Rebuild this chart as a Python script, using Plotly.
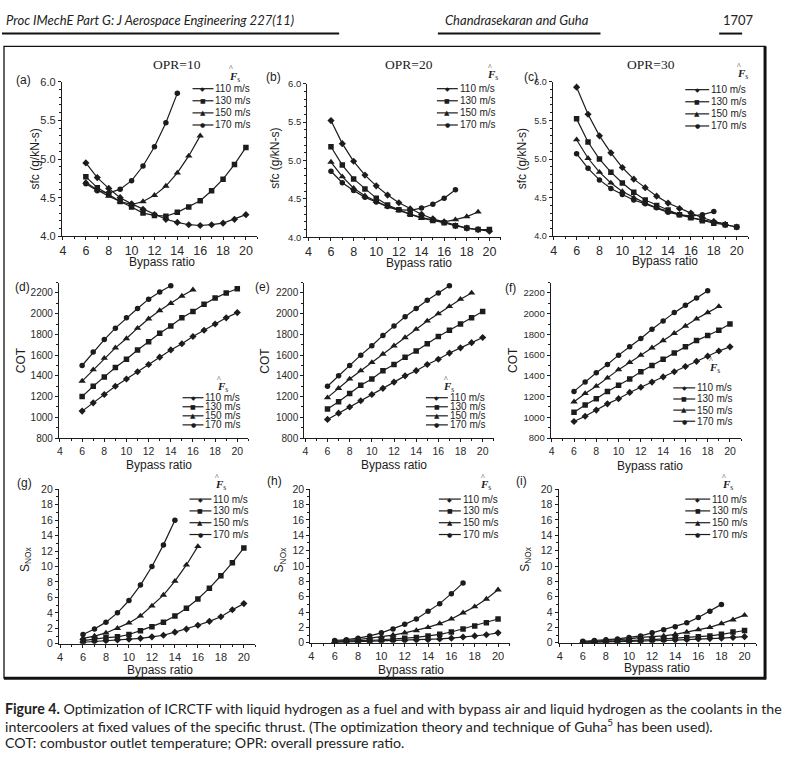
import plotly.graph_objects as go

W, H = 787, 760

# ---------------- data ----------------
bpr = [6, 7, 8, 9, 10, 11, 12, 13, 14, 15, 16, 17, 18, 19, 20]
speed_labels = ["110 m/s", "130 m/s", "150 m/s", "170 m/s"]
opr_titles = ["OPR=10", "OPR=20", "OPR=30"]
panel_letters = ["(a)", "(b)", "(c)", "(d)", "(e)", "(f)", "(g)", "(h)", "(i)"]
x_ticks = [4, 6, 8, 10, 12, 14, 16, 18, 20]
sfc_ticks = [4.0, 4.5, 5.0, 5.5, 6.0]
cot_ticks = [800, 1000, 1200, 1400, 1600, 1800, 2000, 2200]
nox_ticks = [0, 2, 4, 6, 8, 10, 12, 14, 16, 18, 20]

# sfc (g/kN-s)
sfc10_110 = [4.95, 4.76, 4.62, 4.50, 4.42, 4.35, 4.28, 4.22, 4.18, 4.15, 4.14, 4.15, 4.17, 4.22, 4.28]
sfc10_130 = [4.77, 4.63, 4.54, 4.45, 4.38, 4.30, 4.27, 4.26, 4.31, 4.38, 4.46, 4.59, 4.74, 4.93, 5.15]
sfc10_150 = [4.70, 4.60, 4.52, 4.45, 4.41, 4.45, 4.53, 4.65, 4.82, 5.04, 5.30]
sfc10_170 = [4.68, 4.59, 4.56, 4.61, 4.72, 4.91, 5.16, 5.47, 5.85]

sfc20_110 = [5.52, 5.22, 4.99, 4.81, 4.67, 4.55, 4.45, 4.37, 4.30, 4.24, 4.20, 4.15, 4.12, 4.10, 4.08]
sfc20_130 = [5.18, 4.94, 4.76, 4.63, 4.51, 4.42, 4.36, 4.30, 4.26, 4.22, 4.19, 4.15, 4.12, 4.10, 4.10]
sfc20_150 = [4.98, 4.79, 4.64, 4.54, 4.47, 4.40, 4.35, 4.30, 4.25, 4.22, 4.20, 4.23, 4.27, 4.33]
sfc20_170 = [4.86, 4.71, 4.61, 4.52, 4.46, 4.40, 4.36, 4.35, 4.38, 4.43, 4.51, 4.62]

sfc30_110 = [5.93, 5.58, 5.30, 5.08, 4.89, 4.74, 4.63, 4.52, 4.43, 4.36, 4.30, 4.24, 4.19, 4.15, 4.12]
sfc30_130 = [5.52, 5.22, 5.00, 4.83, 4.69, 4.57, 4.47, 4.40, 4.34, 4.28, 4.24, 4.20, 4.17, 4.15, 4.12]
sfc30_150 = [5.25, 5.01, 4.83, 4.69, 4.58, 4.50, 4.43, 4.37, 4.32, 4.28, 4.24, 4.21, 4.19, 4.16]
sfc30_170 = [5.07, 4.88, 4.73, 4.62, 4.54, 4.47, 4.42, 4.37, 4.31, 4.28, 4.26, 4.28, 4.32]

# COT
cot10_110 = [1060, 1140, 1220, 1300, 1370, 1440, 1510, 1580, 1650, 1710, 1780, 1840, 1900, 1960, 2010]
cot10_130 = [1200, 1300, 1390, 1480, 1560, 1650, 1730, 1810, 1880, 1960, 2020, 2090, 2150, 2200, 2240]
cot10_150 = [1350, 1460, 1570, 1670, 1760, 1860, 1950, 2030, 2100, 2170, 2230]
cot10_170 = [1500, 1630, 1750, 1860, 1960, 2050, 2140, 2210, 2270]

cot20_110 = [980, 1040, 1100, 1160, 1220, 1280, 1340, 1400, 1450, 1510, 1560, 1620, 1670, 1720, 1770]
cot20_130 = [1080, 1150, 1230, 1310, 1370, 1450, 1510, 1580, 1640, 1710, 1780, 1840, 1900, 1960, 2020]
cot20_150 = [1190, 1280, 1370, 1450, 1530, 1610, 1690, 1770, 1850, 1930, 2000, 2070, 2140, 2200]
cot20_170 = [1300, 1400, 1500, 1600, 1690, 1790, 1880, 1970, 2050, 2130, 2200, 2270]

cot30_110 = [960, 1010, 1070, 1130, 1180, 1240, 1290, 1340, 1390, 1440, 1490, 1540, 1590, 1640, 1680]
cot30_130 = [1050, 1120, 1180, 1250, 1310, 1370, 1440, 1500, 1560, 1620, 1680, 1740, 1790, 1840, 1900]
cot30_150 = [1150, 1230, 1300, 1380, 1460, 1530, 1600, 1670, 1740, 1810, 1880, 1950, 2010, 2070]
cot30_170 = [1250, 1340, 1430, 1510, 1600, 1680, 1760, 1850, 1930, 2010, 2080, 2150, 2220]

# S_NOx
nox10_110 = [0.2, 0.3, 0.4, 0.5, 0.6, 0.7, 0.9, 1.1, 1.5, 1.9, 2.4, 2.9, 3.5, 4.4, 5.2]
nox10_130 = [0.4, 0.6, 0.8, 0.9, 1.2, 1.7, 2.2, 2.8, 3.6, 4.6, 5.8, 7.2, 8.8, 10.5, 12.4]
nox10_150 = [0.7, 1.0, 1.4, 2.0, 2.7, 3.6, 4.9, 6.3, 8.1, 10.2, 12.6]
nox10_170 = [1.2, 1.9, 2.8, 4.0, 5.6, 7.6, 10.0, 12.8, 16.0]

nox20_110 = [0.05, 0.1, 0.1, 0.15, 0.2, 0.25, 0.3, 0.35, 0.4, 0.5, 0.6, 0.75, 0.9, 1.05, 1.3]
nox20_130 = [0.1, 0.2, 0.3, 0.3, 0.4, 0.5, 0.6, 0.7, 0.9, 1.1, 1.4, 1.8, 2.2, 2.6, 3.1]
nox20_150 = [0.2, 0.3, 0.4, 0.6, 0.8, 1.0, 1.3, 1.6, 2.0, 2.5, 3.1, 3.9, 4.7, 5.7, 6.9]
nox20_170 = [0.3, 0.4, 0.6, 0.9, 1.3, 1.8, 2.4, 3.1, 4.1, 5.1, 6.4, 7.8]

nox30_110 = [0.02, 0.05, 0.08, 0.1, 0.15, 0.2, 0.25, 0.3, 0.35, 0.4, 0.5, 0.55, 0.6, 0.7, 0.8]
nox30_130 = [0.05, 0.1, 0.15, 0.2, 0.3, 0.3, 0.4, 0.5, 0.6, 0.7, 0.8, 0.9, 1.1, 1.4, 1.6]
nox30_150 = [0.1, 0.2, 0.3, 0.4, 0.5, 0.7, 0.8, 0.9, 1.1, 1.4, 1.7, 2.0, 2.5, 3.0, 3.6]
nox30_170 = [0.2, 0.3, 0.4, 0.5, 0.7, 0.9, 1.3, 1.7, 2.1, 2.6, 3.3, 4.1, 5.0]

# ---------------- styling / layout helpers ----------------
INK = "#1c1c1c"
SANS = "Liberation Sans, Arial, sans-serif"
SERIF = "Liberation Serif, Times New Roman, serif"
HEAD = "Lato, Liberation Sans, sans-serif"
symbols = ["diamond", "square", "triangle-up", "circle"]
glyphs = ["\u25C6", "\u25A0", "\u25B2", "\u25CF"]


def fx(p):
    return p / W


def fy(p):
    return 1 - p / H


panels = [
    dict(series=[sfc10_110, sfc10_130, sfc10_150, sfc10_170], xd=(60, 256), yd=(77, 234), yr=[4.0, 6.0],
         yt=sfc_ticks, ytt=["4.0", "4.5", "5.0", "5.5", "6.0"], ymin=0.1, yfs=11, xfs=12.5,
         ylab="sfc (g/kN-s)", ylp=(33, 155),
         xlp=(160, 260), lp=(22, 75), leg=dict(x0=191, x1=212, tx=213, y0=84, dy=12.3, fx=231, fy=72)),
    dict(series=[sfc20_110, sfc20_130, sfc20_150, sfc20_170], xd=(306, 500), yd=(79, 235), yr=[4.0, 6.0],
         yt=sfc_ticks, ytt=["4.0", "4.5", "5.0", "5.5", "6.0"], ymin=0.1, yfs=9.5, xfs=12.5,
         ylab="sfc (g/kN-s)", ylp=(273, 155),
         xlp=(418, 261), lp=(272, 72), leg=dict(x0=436, x1=457, tx=458, y0=84, dy=12.3, fx=490, fy=70)),
    dict(series=[sfc30_110, sfc30_130, sfc30_150, sfc30_170], xd=(552, 748), yd=(77, 234), yr=[4.0, 6.0],
         yt=sfc_ticks, ytt=["4.0", "4.5", "5.0", "5.5", "6.0"], ymin=0.1, yfs=9, xfs=12.5,
         ylab="sfc (g/kN-s)", ylp=(521, 155),
         xlp=(665, 259), lp=(530, 72), leg=dict(x0=685, x1=709, tx=710, y0=85, dy=12.3, fx=740, fy=69)),
    dict(series=[cot10_110, cot10_130, cot10_150, cot10_170], xd=(57, 247), yd=(281, 439), yr=[800, 2300],
         yt=cot_ticks, ytt=[str(v) for v in cot_ticks], ymin=100, yfs=10, xfs=10.5,
         ylab="COT", ylp=(19, 360),
         xlp=(157, 466), lp=(21, 285), leg=dict(x0=181, x1=202, tx=203, y0=398, dy=9.2, fx=219, fy=387)),
    dict(series=[cot20_110, cot20_130, cot20_150, cot20_170], xd=(303, 493), yd=(281, 439), yr=[800, 2300],
         yt=cot_ticks, ytt=[str(v) for v in cot_ticks], ymin=100, yfs=10, xfs=10.5,
         ylab="COT", ylp=(264, 360),
         xlp=(393, 466), lp=(261, 285), leg=dict(x0=425, x1=447, tx=448, y0=398, dy=9.2, fx=446, fy=387)),
    dict(series=[cot30_110, cot30_130, cot30_150, cot30_170], xd=(550, 741), yd=(281, 439), yr=[800, 2300],
         yt=cot_ticks, ytt=[str(v) for v in cot_ticks], ymin=100, yfs=9.5, xfs=10.5,
         ylab="COT", ylp=(513, 360),
         xlp=(650, 467), lp=(510, 287), leg=dict(x0=673, x1=695, tx=696, y0=388, dy=11.3, fx=712, fy=368)),
    dict(series=[nox10_110, nox10_130, nox10_150, nox10_170], xd=(57, 254), yd=(491, 648), yr=[0, 20],
         yt=nox_ticks, ytt=[str(v) for v in nox_ticks], ymin=1, yfs=10.5, xfs=11,
         ylab="S<sub>NOx</sub>", ylp=(24, 562),
         xlp=(158, 675), lp=(23, 485), leg=dict(x0=188, x1=210, tx=211, y0=501, dy=12.0, fx=217, fy=487)),
    dict(series=[nox20_110, nox20_130, nox20_150, nox20_170], xd=(309, 509), yd=(491, 647), yr=[0, 20],
         yt=nox_ticks, ytt=[str(v) for v in nox_ticks], ymin=1, yfs=10.5, xfs=11,
         ylab="S<sub>NOx</sub>", ylp=(279, 562),
         xlp=(410, 675), lp=(273, 483), leg=dict(x0=438, x1=460, tx=461, y0=501, dy=12.0, fx=483, fy=487)),
    dict(series=[nox30_110, nox30_130, nox30_150, nox30_170], xd=(558, 756), yd=(491, 647), yr=[0, 20],
         yt=nox_ticks, ytt=[str(v) for v in nox_ticks], ymin=1, yfs=10.5, xfs=11,
         ylab="S<sub>NOx</sub>", ylp=(525, 562),
         xlp=(657, 673), lp=(521, 483), leg=dict(x0=685, x1=710, tx=711, y0=501, dy=12.0, fx=725, fy=487)),
]

fig = go.Figure()
layout = dict(
    width=W, height=H, margin=dict(l=0, r=0, t=0, b=0),
    paper_bgcolor="white", plot_bgcolor="white", showlegend=False,
)
annotations = []
shapes = []


def note(text, px, py, size, family=SANS, xanchor="center", angle=0, color=INK):
    annotations.append(dict(text=text, x=fx(px), y=fy(py), xref="paper", yref="paper", showarrow=False,
                            xanchor=xanchor, yanchor="middle", textangle=angle, borderpad=0,
                            font=dict(family=family, size=size, color=color)))


for k, p in enumerate(panels, start=1):
    xa = "x" if k == 1 else f"x{k}"
    ya = "y" if k == 1 else f"y{k}"
    for i, vals in enumerate(p["series"]):
        fig.add_trace(go.Scatter(
            x=bpr[:len(vals)], y=vals, xaxis=xa, yaxis=ya, mode="lines+markers",
            name=speed_labels[i],
            line=dict(color=INK, width=1.2),
            marker=dict(symbol=symbols[i], size=5.5 if i != 2 else 6.5, color=INK),
        ))
    xkey = "xaxis" if k == 1 else f"xaxis{k}"
    ykey = "yaxis" if k == 1 else f"yaxis{k}"
    layout[xkey] = dict(
        domain=[fx(p["xd"][0]), fx(p["xd"][1])], anchor=ya, range=[3.9, 21],
        tickvals=x_ticks, ticks="outside", ticklen=3, tickwidth=1, tickcolor=INK,
        minor=dict(ticks="outside", ticklen=2, tickwidth=1, dtick=1, tick0=0, tickcolor=INK),
        showline=True, linecolor=INK, linewidth=1, showgrid=False, zeroline=False,
        tickfont=dict(family=SANS, size=p["xfs"], color="#2a2a2a"),
    )
    layout[ykey] = dict(
        domain=[fy(p["yd"][1]), fy(p["yd"][0])], anchor=xa, range=p["yr"],
        tickvals=p["yt"], ticktext=p["ytt"], ticks="outside", ticklen=3, tickwidth=1, tickcolor=INK,
        minor=dict(ticks="outside", ticklen=2, tickwidth=1, dtick=p["ymin"], tick0=0, tickcolor=INK),
        showline=True, linecolor=INK, linewidth=1, showgrid=False, zeroline=False,
        tickfont=dict(family=SANS, size=p["yfs"], color="#2a2a2a"),
    )
    note(p["ylab"], p["ylp"][0], p["ylp"][1], 12, angle=-90)
    note("Bypass ratio", p["xlp"][0], p["xlp"][1], 12)
    note(panel_letters[k - 1], p["lp"][0], p["lp"][1], 12)
    # compact legend, as in the original
    lg = p["leg"]
    note("<i><b>F</b></i><sub>s</sub>", lg["fx"] + 2, lg["fy"], 11, family=SERIF)
    note("^", lg["fx"] - 1, lg["fy"] - 8, 8, family=SERIF)
    for i, lab in enumerate(speed_labels):
        yy = lg["y0"] + i * lg["dy"]
        shapes.append(dict(type="line", xref="paper", yref="paper", x0=fx(lg["x0"]), x1=fx(lg["x1"]),
                           y0=fy(yy), y1=fy(yy), line=dict(color=INK, width=1.2)))
        note(glyphs[i], (lg["x0"] + lg["x1"]) / 2, yy, 6 if i != 2 else 7, family="DejaVu Sans")
        note(lab, lg["tx"], yy, 10, xanchor="left")

for txt, cx in zip(opr_titles, [175, 408, 651]):
    note(txt, cx, 59, 13.5, family=SERIF)

# page header
note("<i>Proc IMechE Part G: J Aerospace Engineering 227(11)</i>", 3, 14, 13, family=HEAD, xanchor="left", color="#222")
note("<i>Chandrasekaran and Guha</i>", 443, 14, 13, family=HEAD, xanchor="left", color="#222")
note("1707", 722, 14, 13, family=HEAD, xanchor="left", color="#222")
for (a, b) in [(0, 338), (437, 600), (719, 742)]:
    shapes.append(dict(type="line", xref="paper", yref="paper", x0=fx(a), x1=fx(b), y0=fy(28), y1=fy(28),
                       line=dict(color="#111", width=2)))

# figure box
shapes.append(dict(type="rect", xref="paper", yref="paper", x0=fx(2), x1=fx(765), y0=fy(683), y1=fy(41),
                   line=dict(color="#111", width=1.3)))
shapes.append(dict(type="line", xref="paper", yref="paper", x0=fx(765), x1=fx(765), y0=fy(684), y1=fy(41),
                   line=dict(color="#111", width=3)))
shapes.append(dict(type="line", xref="paper", yref="paper", x0=fx(2), x1=fx(766), y0=fy(683), y1=fy(683),
                   line=dict(color="#111", width=3)))

# caption
cap = [
    "<b>Figure 4.</b> Optimization of ICRCTF with liquid hydrogen as a fuel and with bypass air and liquid hydrogen as the coolants in the",
    "intercoolers at fixed values of the specific thrust. (The optimization theory and technique of Guha<sup>5</sup> has been used).",
    "COT: combustor outlet temperature; OPR: overall pressure ratio.",
]
for txt, yy in zip(cap, [714, 731, 748]):
    note(txt, 2, yy, 14.2, family=HEAD, xanchor="left", color="#222")

layout["annotations"] = annotations
layout["shapes"] = shapes
fig.update_layout(**layout)
fig.write_html(
    "out.html",
    config={"displayModeBar": False},
    post_script="document.documentElement.style.overflow='hidden';"
                "document.documentElement.style.height='760px';"
                "document.body.style.margin='0';document.body.style.padding='0';"
                "document.body.style.height='760px';document.body.style.overflow='hidden';",
)
